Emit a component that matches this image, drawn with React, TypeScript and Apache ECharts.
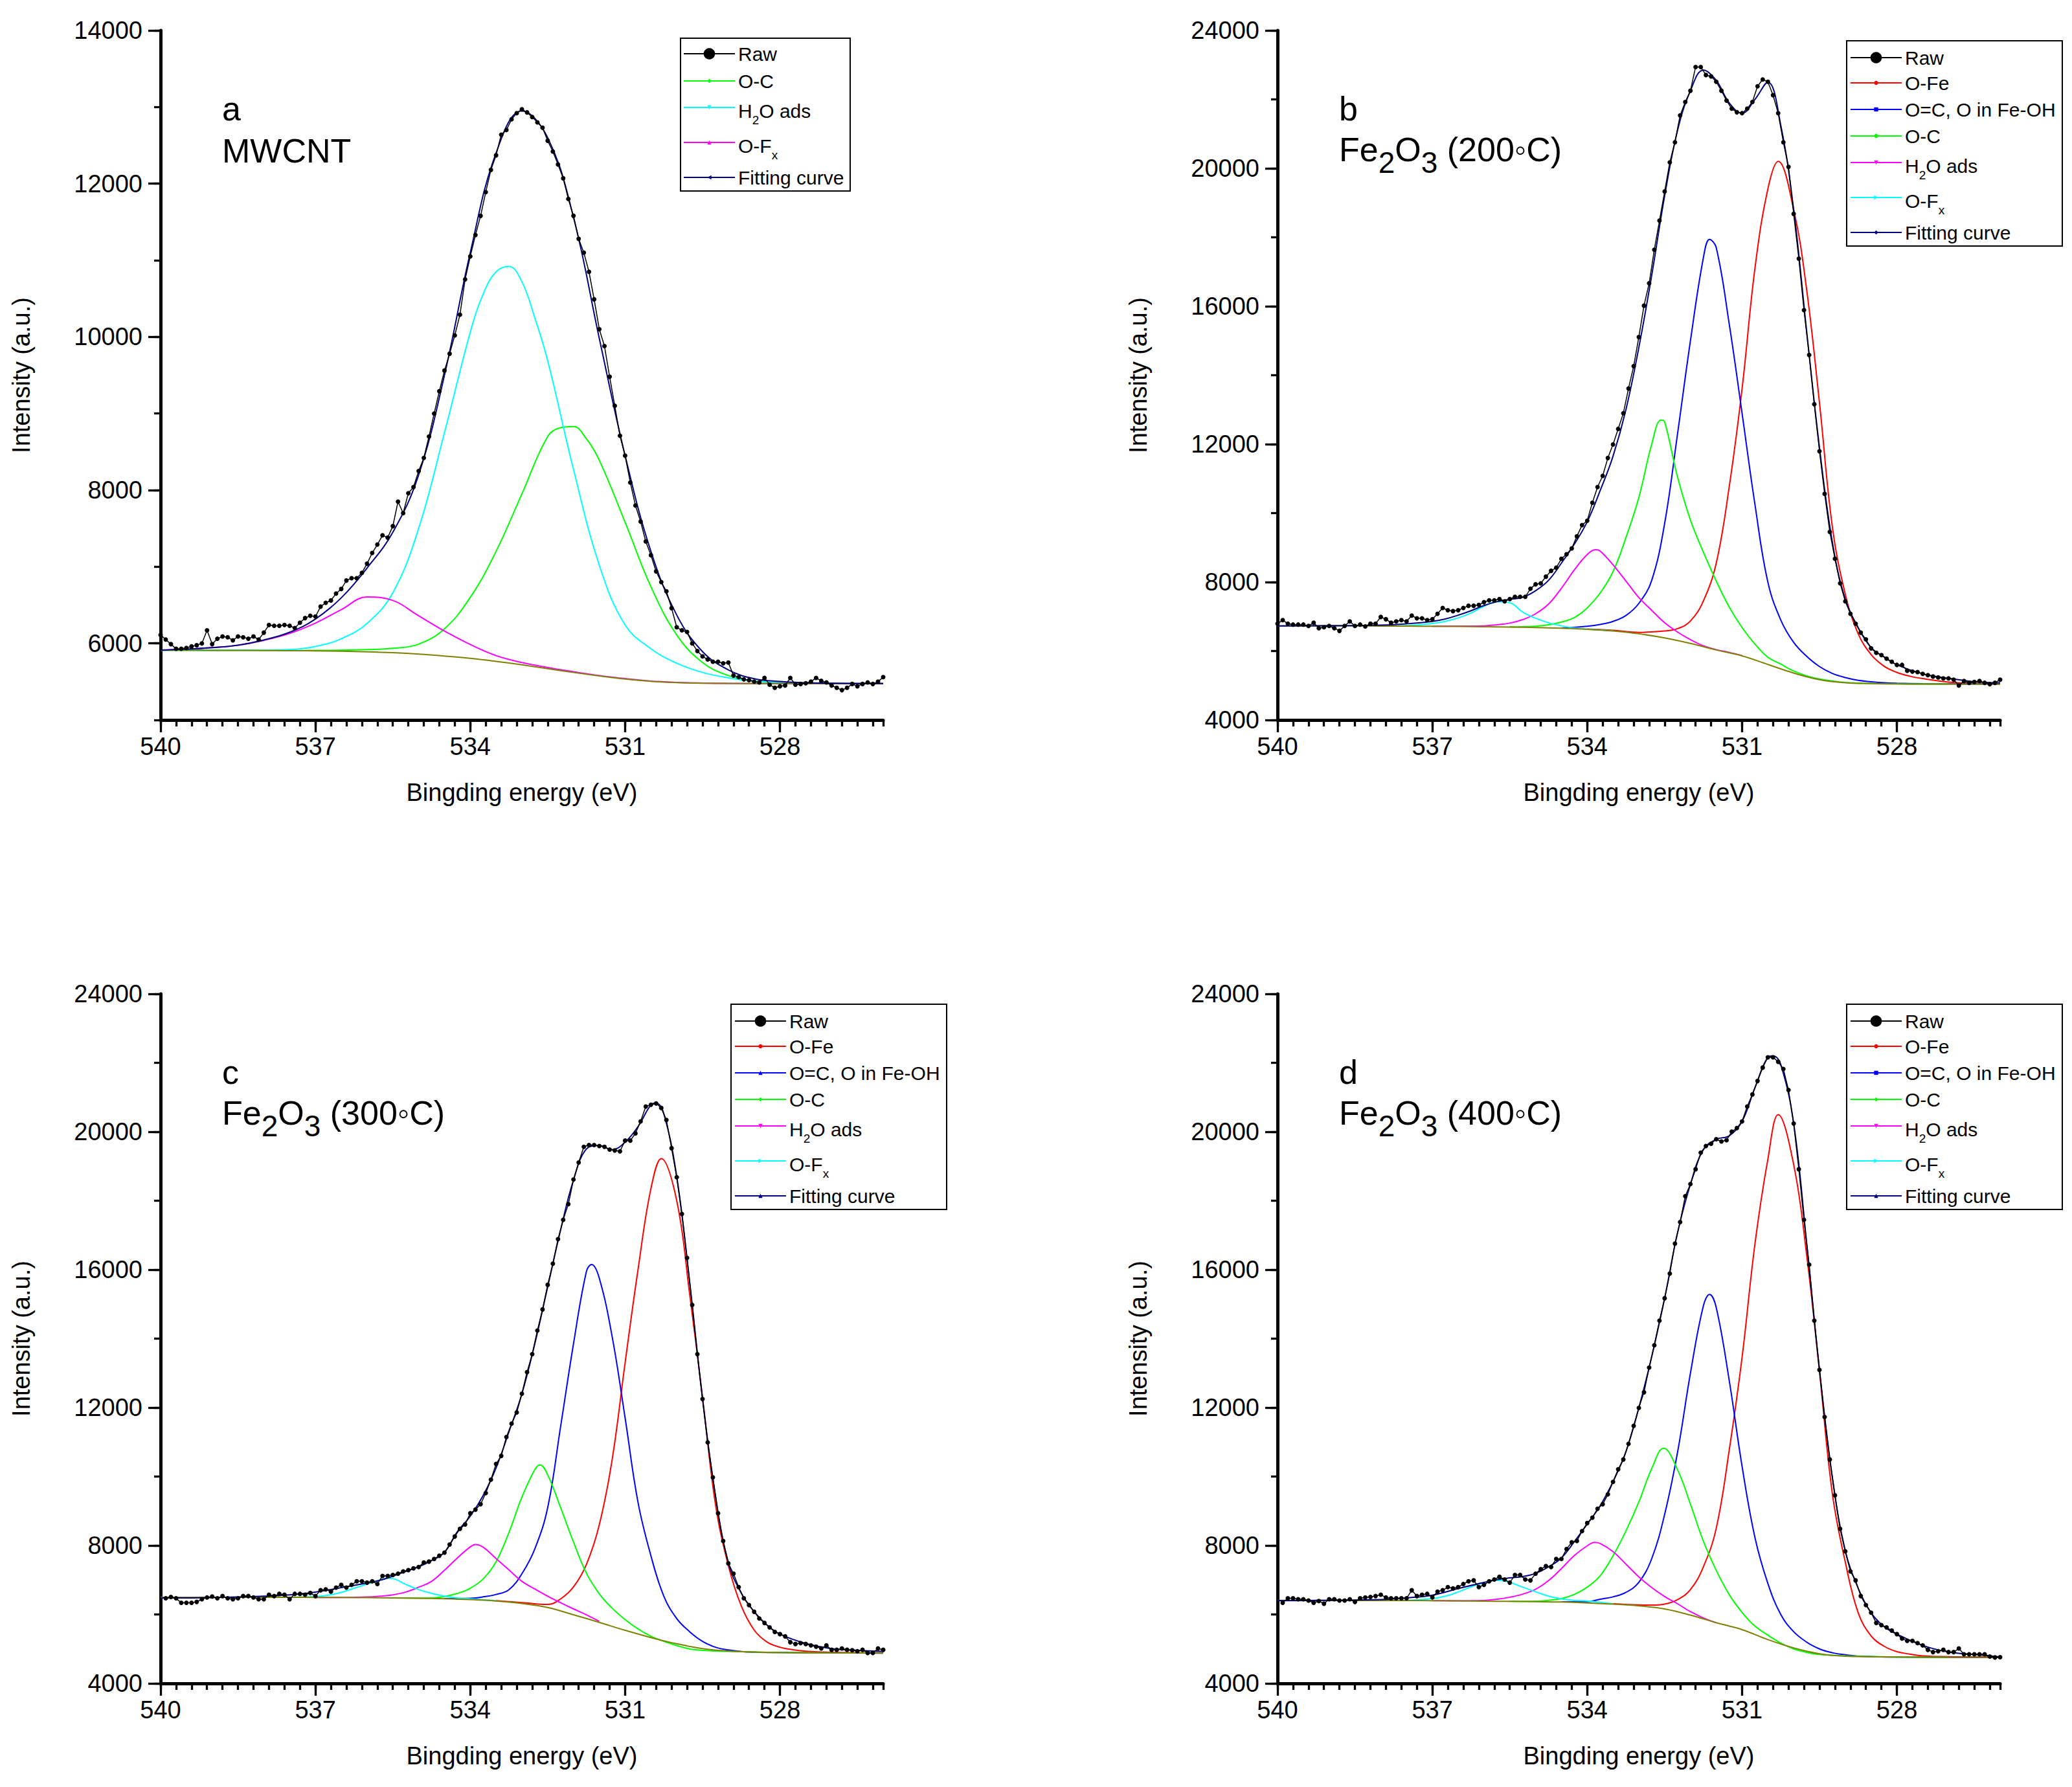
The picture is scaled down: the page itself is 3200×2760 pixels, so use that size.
import React, { useEffect, useRef } from 'react';
import * as echarts from 'echarts';

const FONT = "'Liberation Sans', Arial, Helvetica, sans-serif";

// ---------- shared x grid (binding energy, eV) for half-eV sampled curves ----------
const X_HALF = [540, 539.5, 539, 538.5, 538, 537.5, 537, 536.5, 536, 535.5, 535, 534.5, 534, 533.5, 533, 532.5, 532, 531.5, 531, 530.5, 530, 529.5, 529, 528.5, 528, 527.5, 527, 526.5, 526];

// ---------- panel a : MWCNT ----------
const RAW_A_START = 540;
const RAW_A = [
  6110, 6050, 5990, 5930, 5930, 5940, 5960, 5975, 6000, 6170,
  5990, 6060, 6090, 6080, 6040, 6090, 6080, 6060, 6090, 6050,
  6140, 6240, 6230, 6230, 6240, 6230, 6200, 6270, 6330, 6360,
  6350, 6480, 6530, 6560, 6650, 6710, 6820, 6850, 6850, 6920,
  7040, 7180, 7290, 7410, 7380, 7530, 7850, 7700, 7960, 8040,
  8250, 8420, 8700, 9000, 9290, 9560, 9780, 10020, 10290, 10750,
  11050, 11330, 11580, 11890, 12180, 12370, 12640, 12700, 12840, 12920,
  12970, 12930, 12870, 12800, 12730, 12560, 12420, 12250, 12070, 11800,
  11580, 11280, 11100, 10850, 10490, 10100, 9880, 9480, 9100, 8710,
  8450, 8100, 7800, 7590, 7330, 7150, 6940, 6800, 6680, 6460,
  6210, 6170, 6150, 6000, 5900, 5830, 5790, 5760, 5760, 5740,
  5750, 5580, 5560, 5530, 5520, 5500, 5490, 5550, 5460, 5420,
  5440, 5450, 5550, 5460, 5470, 5480, 5500, 5550, 5510, 5490,
  5450, 5420, 5390, 5420, 5470, 5440, 5470, 5490, 5470, 5500,
  5560,
];
const BG_A = [5910, 5910, 5909, 5908, 5907, 5905, 5903, 5898, 5890, 5878, 5860, 5835, 5805, 5765, 5720, 5670, 5620, 5575, 5535, 5505, 5487, 5480, 5477, 5476, 5475, 5475, 5475, 5475, 5475];
const OC_A = [[540, 5910], [539.5, 5910], [539, 5909], [538.5, 5909], [538, 5908], [537.5, 5907], [537, 5908], [536.5, 5910], [536, 5918], [535.5, 5935], [535, 5990], [534.5, 6190], [534, 6600], [533.5, 7200], [533, 7950], [532.5, 8700], [532.25, 8815], [532, 8830], [531.75, 8670], [531.5, 8390], [531, 7580], [530.5, 6740], [530, 6110], [529.5, 5750], [529, 5580], [528.5, 5510], [528, 5488], [527.5, 5480], [527, 5477], [526.5, 5476], [526, 5475]];
const H2O_A = [[540, 5910], [539.5, 5910], [539, 5909], [538.5, 5909], [538, 5910], [537.5, 5918], [537, 5960], [536.5, 6060], [536, 6260], [535.5, 6660], [535, 7500], [534.5, 8750], [534, 10060], [533.75, 10560], [533.5, 10850], [533.25, 10920], [533, 10720], [532.75, 10250], [532.5, 9690], [532, 8270], [531.5, 7020], [531, 6240], [530.5, 5930], [530, 5740], [529.5, 5620], [529, 5550], [528.5, 5505], [528, 5488], [527.5, 5480], [527, 5477], [526.5, 5476], [526, 5475]];
const OFX_A = [5912, 5925, 5945, 5975, 6040, 6130, 6265, 6440, 6605, 6560, 6360, 6160, 5985, 5840, 5750, 5685, 5630, 5580, 5540, 5508, 5490, 5482, 5478, 5476, 5475, 5475, 5475, 5475, 5475];
const FIT_A = [5912, 5925, 5945, 5977, 6044, 6145, 6317, 6594, 6983, 7450, 8200, 9500, 11100, 12400, 12950, 12600, 11560, 9980, 8450, 7200, 6370, 5892, 5654, 5539, 5502, 5486, 5479, 5476, 5475];

// ---------- panel b : Fe2O3 (200 C) ----------
const RAW_B_START = 540;
const RAW_B = [
  6793, 6897, 6793, 6767, 6767, 6767, 6728, 6819, 6663, 6689,
  6728, 6663, 6585, 6728, 6858, 6728, 6767, 6715, 6793, 6793,
  6988, 6923, 6819, 6858, 6897, 6858, 7027, 6949, 6949, 6897,
  6923, 7079, 7248, 7183, 7157, 7183, 7248, 7312, 7312, 7338,
  7416, 7468, 7468, 7507, 7442, 7507, 7572, 7572, 7572, 7806,
  7936, 7962, 8157, 8326, 8417, 8676, 8806, 8975, 9326, 9651,
  9780, 10300, 10755, 11080, 11599, 11989, 12443, 12898, 13613, 14262,
  15106, 16016, 16665, 17639, 18483, 19328, 20173, 20757, 21536, 21926,
  22251, 22940, 22940, 22706, 22667, 22511, 22251, 21965, 21731, 21627,
  21601, 21731, 21926, 22381, 22576, 22511, 22121, 21601, 20757, 20043,
  18678, 17379, 15886, 14587, 13158, 11794, 10560, 9456, 8676, 7962,
  7442, 7079, 6793, 6533, 6338, 6078, 5948, 5884, 5780, 5689,
  5598, 5598, 5429, 5403, 5390, 5338, 5299, 5260, 5234, 5208,
  5208, 5169, 5000, 5130, 5078, 5104, 5130, 5078, 5040, 5078,
  5169,
];
const BG_B = [6730, 6730, 6728, 6727, 6725, 6722, 6718, 6712, 6705, 6695, 6680, 6660, 6630, 6580, 6500, 6380, 6220, 6030, 5860, 5610, 5360, 5170, 5080, 5055, 5045, 5042, 5040, 5040, 5040];
const OFE_B = [[534, 6640], [533.5, 6600], [533, 6540], [532.5, 6580], [532.25, 6650], [532, 6870], [531.75, 7450], [531.5, 8550], [531.25, 10750], [531, 13600], [530.75, 17100], [530.5, 19400], [530.3, 20200], [530, 18800], [529.75, 16500], [529.5, 13200], [529.25, 9600], [529, 7650], [528.75, 6500], [528.5, 5900], [528.25, 5560], [528, 5380], [527.75, 5270], [527.5, 5200], [527, 5100], [526.5, 5060], [526, 5045]];
const OCO_B = [[534.5, 6665], [534, 6720], [533.75, 6770], [533.5, 6860], [533.25, 7030], [533, 7380], [532.75, 8050], [532.5, 9700], [532.25, 12300], [532, 15000], [531.75, 17400], [531.63, 17940], [531.5, 17700], [531.25, 15500], [531, 12900], [530.75, 10250], [530.5, 8000], [530.25, 6900], [530, 6250], [529.75, 5850], [529.5, 5550], [529.25, 5350], [529, 5230], [528.75, 5150], [528.5, 5110], [528.25, 5080], [528, 5065], [527.5, 5052], [527, 5045], [526, 5040]];
const OC_B = [[535.5, 6700], [535, 6720], [534.75, 6760], [534.5, 6840], [534.25, 6970], [534, 7250], [533.75, 7680], [533.5, 8300], [533.25, 9290], [533, 10450], [532.75, 12000], [532.57, 12700], [532.5, 12650], [532.25, 11050], [532, 9800], [531.75, 8870], [531.5, 8030], [531.25, 7280], [531, 6680], [530.75, 6200], [530.5, 5820], [530.25, 5620], [530, 5420], [529.75, 5280], [529.5, 5190], [529, 5090], [528.5, 5060], [528, 5047], [527, 5040]];
const H2O_B = [[537, 6720], [536.5, 6722], [536, 6730], [535.75, 6760], [535.5, 6810], [535.25, 6910], [535, 7080], [534.75, 7360], [534.5, 7820], [534.25, 8350], [534, 8800], [533.83, 8940], [533.75, 8900], [533.5, 8500], [533.25, 8030], [533, 7550], [532.75, 7180], [532.5, 6820], [532.25, 6550], [532, 6330], [531.75, 6150], [531.5, 6040], [531.25, 5960], [531, 5870]];
const OFX_B = [[538, 6726], [537.5, 6735], [537, 6800], [536.75, 6860], [536.5, 6960], [536.25, 7100], [536, 7300], [535.75, 7430], [535.5, 7400], [535.25, 7130], [535, 6950], [534.75, 6820], [534.5, 6730], [534.25, 6665], [534, 6635], [533.5, 6585]];
const FIT_B = [[540, 6730], [539, 6735], [538, 6750], [537.5, 6790], [537, 6860], [536.75, 6930], [536.5, 7040], [536.25, 7170], [536, 7320], [535.75, 7430], [535.5, 7500], [535.25, 7560], [535, 7750], [534.75, 8050], [534.5, 8550], [534.25, 9100], [534, 9750], [533.75, 10650], [533.5, 11650], [533.25, 13000], [533, 14800], [532.75, 16900], [532.5, 19200], [532.25, 21100], [532, 22250], [531.75, 22850], [531.5, 22550], [531.25, 21900], [531, 21600], [530.75, 22000], [530.5, 22500], [530.25, 21250], [530, 18800], [529.75, 15300], [529.5, 11900], [529.25, 9150], [529, 7500], [528.75, 6680], [528.5, 6100], [528.25, 5830], [528, 5600], [527.5, 5340], [527, 5210], [526.5, 5110], [526, 5080]];

// ---------- panel c : Fe2O3 (300 C) ----------
const RAW_C_START = 539.9;
const RAW_C = [
  6468, 6507, 6468, 6338, 6338, 6338, 6364, 6442, 6494, 6520,
  6468, 6533, 6468, 6442, 6468, 6533, 6533, 6494, 6442, 6442,
  6572, 6533, 6598, 6572, 6442, 6598, 6598, 6572, 6624, 6533,
  6702, 6728, 6663, 6780, 6858, 6780, 6858, 6962, 6962, 6923,
  6962, 6884, 7118, 7118, 7144, 7183, 7248, 7286, 7338, 7377,
  7507, 7533, 7611, 7702, 7793, 8027, 8261, 8482, 8611, 8936,
  9040, 9196, 9521, 9910, 10365, 10599, 11145, 11534, 11859, 12405,
  13028, 13548, 14236, 14847, 15561, 16172, 16886, 17445, 17900, 18614,
  19107, 19562, 19614, 19614, 19588, 19562, 19484, 19458, 19432, 19744,
  19744, 19952, 20302, 20731, 20783, 20822, 20692, 20341, 19523, 18679,
  17614, 16341, 14977, 13548, 12249, 10989, 9975, 8936, 8131, 7481,
  7183, 6793, 6468, 6273, 6078, 5884, 5754, 5624, 5494, 5429,
  5364, 5195, 5143, 5169, 5143, 5104, 5065, 5013, 5104, 4974,
  4974, 5013, 4974, 4961, 4935, 4974, 4883, 4883, 5013, 4974,
];
const BG_C = [6500, 6500, 6500, 6499, 6498, 6497, 6495, 6492, 6488, 6480, 6470, 6455, 6430, 6390, 6320, 6200, 5990, 5770, 5540, 5330, 5150, 5010, 4940, 4910, 4895, 4890, 4885, 4882, 4880];
const OFE_C = [[533.5, 6400], [533, 6345], [532.5, 6290], [532.25, 6450], [532, 6800], [531.75, 7450], [531.5, 8600], [531.25, 10500], [531, 13300], [530.75, 16000], [530.5, 18350], [530.3, 19220], [530, 18000], [529.75, 15300], [529.5, 12300], [529.25, 9200], [529, 7420], [528.75, 6250], [528.5, 5550], [528.25, 5200], [528, 5050], [527.75, 4975], [527.5, 4935], [527, 4900], [526.5, 4890], [526, 4885]];
const OCO_C = [[534.5, 6460], [534, 6470], [533.75, 6510], [533.5, 6580], [533.25, 6720], [533, 7180], [532.75, 7900], [532.5, 9100], [532.25, 11450], [532, 13850], [531.75, 15950], [531.65, 16150], [531.5, 15750], [531.25, 14050], [531, 11700], [530.75, 9250], [530.5, 7700], [530.25, 6530], [530, 5880], [529.75, 5500], [529.5, 5220], [529.25, 5050], [529, 4970], [528.75, 4925], [528.5, 4905], [528, 4895], [527, 4885], [526, 4880]];
const OC_C = [[535.5, 6482], [535, 6475], [534.75, 6478], [534.5, 6520], [534.25, 6610], [534, 6760], [533.75, 7030], [533.5, 7530], [533.25, 8380], [533, 9400], [532.75, 10200], [532.65, 10340], [532.5, 10050], [532.25, 9100], [532, 8100], [531.75, 7200], [531.5, 6600], [531.25, 6180], [531, 5850], [530.75, 5580], [530.5, 5370], [530.25, 5220], [530, 5100], [529.75, 5000], [529.5, 4960], [529, 4930], [528.5, 4910], [528, 4895], [527, 4885]];
const H2O_C = [[537, 6495], [536.5, 6495], [536, 6505], [535.75, 6530], [535.5, 6570], [535.25, 6650], [535, 6790], [534.75, 6960], [534.5, 7280], [534.25, 7640], [534, 7960], [533.9, 8030], [533.75, 7950], [533.5, 7620], [533.25, 7290], [533, 6960], [532.75, 6740], [532.5, 6530], [532.25, 6340], [532, 6160], [531.75, 5990], [531.5, 5800]];
const OFX_C = [[538, 6498], [537.5, 6500], [537, 6520], [536.75, 6560], [536.5, 6640], [536.25, 6760], [536, 6880], [535.75, 7000], [535.6, 7050], [535.5, 7040], [535.25, 6870], [535, 6720], [534.75, 6610], [534.5, 6530], [534.25, 6480], [534, 6455], [533.5, 6400]];
const FIT_C = [[540, 6480], [539, 6490], [538, 6530], [537.5, 6570], [537, 6650], [536.5, 6780], [536, 6910], [535.75, 6990], [535.5, 7110], [535.25, 7250], [535, 7380], [534.75, 7560], [534.5, 7800], [534.25, 8400], [534, 8850], [533.75, 9450], [533.5, 10250], [533.25, 11300], [533, 12400], [532.75, 13850], [532.5, 15500], [532.25, 17150], [532, 18600], [531.75, 19500], [531.5, 19600], [531.25, 19480], [531, 19700], [530.75, 20150], [530.5, 20780], [530.4, 20830], [530.25, 20520], [530, 18700], [529.75, 15650], [529.5, 12250], [529.25, 9450], [529, 7500], [528.75, 6620], [528.5, 6080], [528.25, 5690], [528, 5430], [527.5, 5160], [527, 5010], [526.5, 4960], [526, 4930]];

// ---------- panel d : Fe2O3 (400 C) ----------
const RAW_D_START = 539.9;
const RAW_D = [
  6338, 6468, 6468, 6442, 6442, 6403, 6338, 6390, 6312, 6442,
  6442, 6403, 6403, 6442, 6364, 6468, 6494, 6507, 6533, 6572,
  6494, 6468, 6468, 6468, 6468, 6702, 6533, 6572, 6598, 6494,
  6663, 6702, 6793, 6754, 6793, 6884, 6962, 6988, 6793, 6858,
  6962, 7014, 7092, 7014, 6923, 7144, 7144, 7014, 6988, 7183,
  7312, 7403, 7377, 7611, 7611, 7897, 8092, 8131, 8417, 8650,
  8806, 9066, 9196, 9482, 9846, 10209, 10495, 10950, 11469, 11989,
  12444, 13158, 13807, 14522, 15171, 15886, 16756, 17380, 18133, 18484,
  18913, 19393, 19588, 19653, 19783, 19718, 19757, 20004, 20108, 20302,
  20731, 21082, 21472, 21861, 22160, 22160, 22030, 21822, 21212, 20238,
  18913, 17445, 16146, 14522, 13093, 11729, 10495, 9456, 8482, 7832,
  7248, 6988, 6533, 6273, 6052, 5754, 5689, 5624, 5533, 5429,
  5299, 5234, 5234, 5169, 5104, 4974, 4909, 4935, 4974, 4909,
  4909, 5013, 4844, 4844, 4844, 4844, 4844, 4779, 4753, 4760,
];
const BG_D = [6410, 6409, 6408, 6406, 6405, 6403, 6400, 6393, 6385, 6378, 6370, 6360, 6335, 6300, 6250, 6160, 5980, 5760, 5560, 5270, 5030, 4860, 4790, 4775, 4765, 4762, 4758, 4755, 4752];
const OFE_D = [[533.5, 6310], [533, 6275], [532.75, 6270], [532.5, 6300], [532.25, 6430], [532, 6720], [531.75, 7380], [531.5, 8500], [531.25, 10750], [531, 13450], [530.75, 16750], [530.5, 19200], [530.3, 20500], [530, 19050], [529.75, 16450], [529.5, 13050], [529.25, 9500], [529, 7520], [528.75, 6050], [528.5, 5380], [528.25, 5080], [528, 4920], [527.75, 4850], [527.5, 4800], [527, 4775], [526.5, 4765], [526, 4760]];
const OCO_D = [[534.5, 6365], [534, 6370], [533.75, 6440], [533.5, 6510], [533.25, 6640], [533, 6930], [532.75, 7620], [532.5, 8900], [532.25, 10700], [532, 13000], [531.75, 14950], [531.63, 15280], [531.5, 14900], [531.25, 12800], [531, 10300], [530.75, 8230], [530.5, 6900], [530.25, 6000], [530, 5500], [529.75, 5200], [529.5, 5000], [529.25, 4890], [529, 4830], [528.75, 4790], [528.5, 4778], [528, 4765], [527, 4758], [526, 4752]];
const OC_D = [[535.5, 6380], [535, 6385], [534.75, 6410], [534.5, 6460], [534.25, 6580], [534, 6790], [533.75, 7120], [533.5, 7700], [533.25, 8420], [533, 9260], [532.75, 10230], [532.52, 10820], [532.25, 10200], [532, 9200], [531.75, 8130], [531.5, 7280], [531.25, 6580], [531, 6060], [530.75, 5660], [530.5, 5400], [530.25, 5170], [530, 5000], [529.75, 4900], [529.5, 4840], [529, 4800], [528.5, 4778], [528, 4765], [527, 4758]];
const H2O_D = [[537, 6400], [536.5, 6395], [536, 6405], [535.75, 6440], [535.5, 6500], [535.25, 6590], [535, 6730], [534.75, 6980], [534.5, 7330], [534.25, 7710], [534, 7990], [533.86, 8090], [533.75, 8060], [533.5, 7820], [533.25, 7460], [533, 7090], [532.75, 6780], [532.5, 6520], [532.25, 6310], [532, 6080], [531.75, 5900], [531.5, 5760]];
const OFX_D = [[538, 6405], [537.5, 6410], [537, 6460], [536.75, 6530], [536.5, 6650], [536.25, 6800], [536, 6920], [535.75, 6990], [535.5, 6930], [535.25, 6790], [535, 6660], [534.75, 6530], [534.5, 6450], [534.25, 6405], [534, 6390], [533.5, 6310]];
const FIT_D = [[540, 6400], [539, 6410], [538, 6430], [537.5, 6480], [537, 6560], [536.5, 6750], [536, 6930], [535.75, 7010], [535.5, 7060], [535.25, 7100], [535, 7190], [534.75, 7380], [534.5, 7640], [534.25, 8110], [534, 8620], [533.75, 9150], [533.5, 9850], [533.25, 10720], [533, 11990], [532.75, 13480], [532.5, 15170], [532.25, 17070], [532, 18480], [531.75, 19480], [531.5, 19780], [531.25, 19880], [531, 20300], [530.75, 21280], [530.5, 22160], [530.4, 22200], [530.25, 21950], [530, 20240], [529.75, 16800], [529.5, 13100], [529.25, 9970], [529, 7850], [528.75, 6760], [528.5, 6050], [528.25, 5650], [528, 5430], [527.5, 5100], [527, 4910], [526.5, 4840], [526, 4770]];

// ---------- text ----------
const X_NAME = 'Bingding energy (eV)';
const Y_NAME = 'Intensity (a.u.)';

// ---------- helpers (x is negated so that ticks count from 540 downwards) ----------
const halfPairs = (vals: number[]) => X_HALF.map((x, i) => [-x, vals[i]]);
const negPairs = (pairs: number[][]) => pairs.map(([x, y]) => [-x, y]);
const rawPairs = (start: number, vals: number[]) =>
  vals.map((v, i) => [-Math.round((start - i * 0.1) * 10) / 10, v]);

const C = {
  raw: '#000000', ofe: '#FF0000', oco: '#0000FF', oc: '#00FF00',
  mag: '#FF00FF', cyan: '#00FFFF', fit: '#000080', bg: '#808000',
};

const W = 1116;
const H = 1065;

const PANELS = [
  {
    id: 'a', left: 248, top: 47, yMin: 5000, yMax: 14000, yMinor: 1000, yMajorMin: 6000, yMajor: 2000,
    letter: 'a', sample: 'MWCNT', formula: null as string | null,
    legendLeft: 1055, legend1Top: 67, legend2Top: 109, box: [1051, 59, 262, 236],
    raw: rawPairs(RAW_A_START, RAW_A), bg: halfPairs(BG_A), fit: halfPairs(FIT_A), fitSymbol: 'triangle', fitRotate: 90,
    curves: [
      { label: 'O-C', color: C.oc, symbol: 'diamond', rotate: 0, data: negPairs(OC_A) },
      { label: 'H2O ads', color: C.cyan, symbol: 'triangle', rotate: 180, data: negPairs(H2O_A) },
      { label: 'O-Fx', color: C.mag, symbol: 'triangle', rotate: 0, data: halfPairs(OFX_A) },
    ],
  },
  {
    id: 'b', left: 1973, top: 47, yMin: 4000, yMax: 24000, yMinor: 2000, yMajorMin: 4000, yMajor: 4000,
    letter: 'b', sample: null, formula: '{n|Fe}{s|2}{n|O}{s|3}{n| (200◦C)}',
    legendLeft: 2857, legend1Top: 73, legend2Top: 112, box: [2852, 63, 333, 317],
    raw: rawPairs(RAW_B_START, RAW_B), bg: halfPairs(BG_B), fit: negPairs(FIT_B), fitSymbol: 'diamond', fitRotate: 0,
    curves: [
      { label: 'O-Fe', color: C.ofe, symbol: 'circle', rotate: 0, data: negPairs(OFE_B) },
      { label: 'O=C, O in Fe-OH', color: C.oco, symbol: 'rect', rotate: 0, data: negPairs(OCO_B) },
      { label: 'O-C', color: C.oc, symbol: 'circle', rotate: 0, data: negPairs(OC_B) },
      { label: 'H2O ads', color: C.mag, symbol: 'triangle', rotate: 180, data: negPairs(H2O_B) },
      { label: 'O-Fx', color: C.cyan, symbol: 'triangle', rotate: -90, data: negPairs(OFX_B) },
    ],
  },
  {
    id: 'c', left: 248, top: 1535, yMin: 4000, yMax: 24000, yMinor: 2000, yMajorMin: 4000, yMajor: 4000,
    letter: 'c', sample: null, formula: '{n|Fe}{s|2}{n|O}{s|3}{n| (300◦C)}',
    legendLeft: 1134, legend1Top: 1561, legend2Top: 1600, box: [1129, 1551, 333, 317],
    raw: rawPairs(RAW_C_START, RAW_C), bg: halfPairs(BG_C), fit: negPairs(FIT_C), fitSymbol: 'triangle', fitRotate: 0,
    curves: [
      { label: 'O-Fe', color: C.ofe, symbol: 'circle', rotate: 0, data: negPairs(OFE_C) },
      { label: 'O=C, O in Fe-OH', color: C.oco, symbol: 'triangle', rotate: 0, data: negPairs(OCO_C) },
      { label: 'O-C', color: C.oc, symbol: 'diamond', rotate: 0, data: negPairs(OC_C) },
      { label: 'H2O ads', color: C.mag, symbol: 'triangle', rotate: 180, data: negPairs(H2O_C) },
      { label: 'O-Fx', color: C.cyan, symbol: 'triangle', rotate: -90, data: negPairs(OFX_C) },
    ],
  },
  {
    id: 'd', left: 1973, top: 1535, yMin: 4000, yMax: 24000, yMinor: 2000, yMajorMin: 4000, yMajor: 4000,
    letter: 'd', sample: null, formula: '{n|Fe}{s|2}{n|O}{s|3}{n| (400◦C)}',
    legendLeft: 2857, legend1Top: 1561, legend2Top: 1600, box: [2852, 1551, 333, 317],
    raw: rawPairs(RAW_D_START, RAW_D), bg: halfPairs(BG_D), fit: negPairs(FIT_D), fitSymbol: 'triangle', fitRotate: 0,
    curves: [
      { label: 'O-Fe', color: C.ofe, symbol: 'circle', rotate: 0, data: negPairs(OFE_D) },
      { label: 'O=C, O in Fe-OH', color: C.oco, symbol: 'rect', rotate: 0, data: negPairs(OCO_D) },
      { label: 'O-C', color: C.oc, symbol: 'diamond', rotate: 0, data: negPairs(OC_D) },
      { label: 'H2O ads', color: C.mag, symbol: 'triangle', rotate: 180, data: negPairs(H2O_D) },
      { label: 'O-Fx', color: C.cyan, symbol: 'triangle', rotate: -90, data: negPairs(OFX_D) },
    ],
  },
];

const LEGEND_RICH = {
  p: { fontSize: 30, lineHeight: 32, fontFamily: FONT, color: '#000' },
  t: { fontSize: 30, lineHeight: 32, padding: [6, 0, 0, 0], verticalAlign: 'top', fontFamily: FONT, color: '#000' },
  sub: { fontSize: 19, lineHeight: 18, padding: [26, 0, 0, 0], verticalAlign: 'top', fontFamily: FONT, color: '#000' },
};
const TITLE_RICH = {
  n: { fontSize: 52, lineHeight: 60, verticalAlign: 'top', fontFamily: FONT, color: '#000' },
  s: { fontSize: 46, lineHeight: 50, padding: [23, 0, 0, 0], verticalAlign: 'top', fontFamily: FONT, color: '#000' },
};

function legendLabel(label: string) {
  if (label === 'H2O ads') return '{t|H}{sub|2}{t|O ads}';
  if (label === 'O-Fx') return '{t|O-F}{sub|x}';
  return '{p|' + label + '}';
}

const SMOOTH = 0.4;

function buildOption() {
  const grid: any[] = [];
  const xAxis: any[] = [];
  const yAxis: any[] = [];
  const series: any[] = [];
  const legend: any[] = [];
  const title: any[] = [];
  const graphic: any[] = [];

  const tickStyle = { color: '#000', width: 3.3 };

  PANELS.forEach((p, k) => {
    const g0 = 3 * k;
    const yFrac = (p.yMax - p.yMajorMin) / (p.yMax - p.yMin);
    grid.push({ left: p.left, top: p.top, width: W, height: H, outerBoundsMode: 'none', containLabel: false });
    grid.push({ left: p.left, top: p.top, width: (W * 12) / 14, height: H, outerBoundsMode: 'none', containLabel: false });
    grid.push({ left: p.left, top: p.top, width: W, height: H * yFrac, outerBoundsMode: 'none', containLabel: false });

    // main axes: axis lines, minor ticks, names
    xAxis.push({
      gridIndex: g0, type: 'value', min: -540, max: -526, interval: 0.3,
      axisLine: { show: true, onZero: false, lineStyle: { color: '#000', width: 5 } },
      axisTick: { show: true, length: 10, lineStyle: tickStyle },
      axisLabel: { show: false }, splitLine: { show: false },
      name: X_NAME, nameLocation: 'middle', nameGap: 93,
      nameTextStyle: { fontSize: 38, color: '#000', fontFamily: FONT },
    });
    // major x ticks + labels (540 ... 528)
    xAxis.push({
      gridIndex: g0 + 1, type: 'value', min: -540, max: -528, interval: 3,
      axisLine: { show: false, onZero: false },
      axisTick: { show: true, length: 19, lineStyle: tickStyle },
      axisLabel: { show: true, margin: 22, fontSize: 38, color: '#000', fontFamily: FONT, formatter: (v: number) => String(-v) },
      splitLine: { show: false },
    });
    xAxis.push({ gridIndex: g0 + 2, type: 'value', min: -540, max: -526, show: false });

    yAxis.push({
      gridIndex: g0, type: 'value', min: p.yMin, max: p.yMax, interval: p.yMinor,
      axisLine: { show: true, onZero: false, lineStyle: { color: '#000', width: 5 } },
      axisTick: { show: true, length: 10, lineStyle: tickStyle },
      axisLabel: { show: false }, splitLine: { show: false },
      name: Y_NAME, nameLocation: 'middle', nameGap: 196, nameRotate: 90,
      nameTextStyle: { fontSize: 38, color: '#000', fontFamily: FONT },
    });
    yAxis.push({ gridIndex: g0 + 1, type: 'value', min: p.yMin, max: p.yMax, show: false });
    yAxis.push({
      gridIndex: g0 + 2, type: 'value', min: p.yMajorMin, max: p.yMax, interval: p.yMajor,
      axisLine: { show: false, onZero: false },
      axisTick: { show: true, length: 19, lineStyle: tickStyle },
      axisLabel: { show: true, margin: 28, fontSize: 38, color: '#000', fontFamily: FONT, formatter: (v: number) => String(v) },
      splitLine: { show: false },
    });

    const common = { xAxisIndex: g0, yAxisIndex: g0, animation: false, emphasis: { disabled: true }, silent: true };
    const legendNames: string[] = [];
    p.curves.forEach((c) => {
      const name = p.id + '|' + c.label;
      legendNames.push(name);
      series.push({
        ...common, type: 'line', name, data: c.data, color: c.color,
        symbol: c.symbol, symbolRotate: c.rotate, symbolSize: 4, showSymbol: false,
        smooth: SMOOTH,
        lineStyle: { color: c.color, width: 2 }, itemStyle: { color: c.color },
      });
    });
    series.push({
      ...common, type: 'line', name: p.id + '|bg', data: p.bg, color: C.bg,
      showSymbol: false, symbol: 'none', smooth: SMOOTH,
      lineStyle: { color: C.bg, width: 2 },
    });
    const fitName = p.id + '|Fitting curve';
    legendNames.push(fitName);
    series.push({
      ...common, type: 'line', name: fitName, data: p.fit, color: C.fit,
      symbol: p.fitSymbol, symbolRotate: p.fitRotate, symbolSize: 4, showSymbol: false,
      smooth: SMOOTH,
      lineStyle: { color: C.fit, width: 2 }, itemStyle: { color: C.fit },
    });
    const rawName = p.id + '|Raw';
    series.push({
      ...common, type: 'line', name: rawName, data: p.raw, color: C.raw,
      symbol: 'circle', symbolSize: 7, showSymbol: true,
      lineStyle: { color: C.raw, width: 1.5 }, itemStyle: { color: C.raw },
    });

    legend.push({
      data: [rawName], orient: 'vertical', left: p.legendLeft, top: p.legend1Top, padding: 0,
      itemWidth: 79, itemHeight: 22, selectedMode: false,
      formatter: () => 'Raw',
      textStyle: { fontSize: 30, lineHeight: 32, color: '#000', fontFamily: FONT },
    });
    legend.push({
      data: legendNames, orient: 'vertical', left: p.legendLeft, top: p.legend2Top, padding: 0,
      itemWidth: 79, itemHeight: 8, itemGap: 9, selectedMode: false,
      formatter: (name: string) => legendLabel(name.split('|')[1]),
      textStyle: { fontSize: 30, lineHeight: 32, color: '#000', fontFamily: FONT, rich: LEGEND_RICH },
    });

    graphic.push({
      type: 'rect', z: 100, silent: true,
      shape: { x: p.box[0], y: p.box[1], width: p.box[2], height: p.box[3] },
      style: { fill: 'none', stroke: '#000', lineWidth: 2 },
    });

    const textX = p.left + 95;
    title.push({
      text: p.letter, left: textX, top: p.top + 91, padding: 0,
      textStyle: { fontSize: 52, lineHeight: 60, fontWeight: 'normal', color: '#000', fontFamily: FONT },
    });
    if (p.sample) {
      title.push({
        text: p.sample, left: textX, top: p.top + 156, padding: 0,
        textStyle: { fontSize: 52, lineHeight: 60, fontWeight: 'normal', color: '#000', fontFamily: FONT },
      });
    } else if (p.formula) {
      title.push({
        text: p.formula, left: textX, top: p.top + 158, padding: 0,
        textStyle: { fontSize: 52, fontWeight: 'normal', color: '#000', fontFamily: FONT, rich: TITLE_RICH },
      });
    }
  });

  return {
    animation: false,
    backgroundColor: '#ffffff',
    textStyle: { fontFamily: FONT },
    grid, xAxis, yAxis, series, legend, title, graphic,
  };
}

export default function App() {
  const ref = useRef<HTMLDivElement | null>(null);
  useEffect(() => {
    if (!ref.current) return;
    const chart = echarts.init(ref.current, null, { renderer: 'svg', width: 3200, height: 2760 });
    chart.setOption(buildOption() as any);
    return () => chart.dispose();
  }, []);
  return (
    <div
      ref={ref}
      style={{ position: 'absolute', left: 0, top: 0, width: 3200, height: 2760, background: '#ffffff' }}
    />
  );
}
